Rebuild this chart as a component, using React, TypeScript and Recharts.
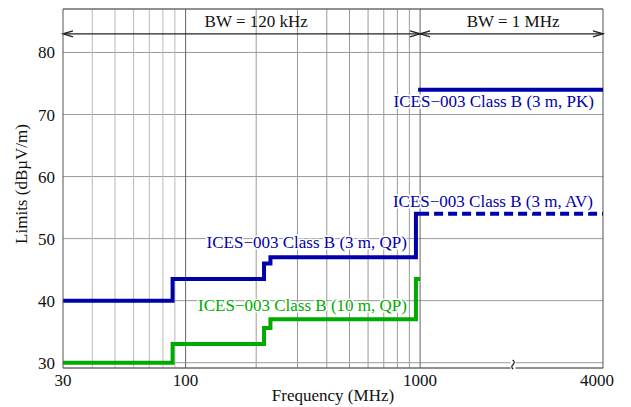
import React from "react";
import {
  LineChart,
  Line,
  XAxis,
  YAxis,
  CartesianGrid,
  ReferenceLine,
  ReferenceDot,
} from "recharts";

// Limit steps (frequency in MHz, level in dBµV/m)
const qp3Freq = [30, 88, 216, 230, 960, 1000];
const qp3Limit = [40, 43.5, 46, 47, 54, 54];
const qp10Freq = [30, 88, 216, 230, 960, 1000];
const qp10Limit = [30, 33, 35.6, 37, 43.5, 43.5];
const pkFreq = [1000, 4000];
const pkLimit = [74, 74];
const avFreq = [1000, 4000];
const avLimit = [54, 54];

const xTickFreqs = [30, 100, 1000, 4000];
const yTicks = [30, 40, 50, 60, 70, 80];
const gridLow = [40, 50, 60, 70, 80, 90];
const gridMid = [200, 300, 400, 500, 600, 700, 800, 900];
const gridMajor = [100, 1000];

const BLUE = "#0000aa";
const GREEN = "#00aa00";
const FONT = "'Liberation Serif', 'Times New Roman', serif";

// log axis up to 1 GHz, then a compressed linear piece up to 4 GHz
const BREAK_SPAN = 0.78;
const tx = (f: number) =>
  f <= 1000 ? Math.log10(f) : 3 + ((f - 1000) / 3000) * BREAK_SPAN;

const X_DOMAIN = [tx(30), tx(4000)];
const Y_DOMAIN = [29.15, 87];

const toPoints = (freq: number[], lvl: number[]) =>
  freq.map((f, i) => ({ x: tx(f), y: lvl[i] }));

const qp3Data = toPoints(qp3Freq, qp3Limit);
const qp10Data = toPoints(qp10Freq, qp10Limit);
const pkData = toPoints(pkFreq, pkLimit);
const avData = toPoints(avFreq, avLimit);

const gridAt = (freqs: number[]) => ({ xAxis, offset }: any) =>
  freqs.map((f) =>
    xAxis && typeof xAxis.scale === "function"
      ? xAxis.scale(tx(f))
      : offset.left +
        ((tx(f) - X_DOMAIN[0]) / (X_DOMAIN[1] - X_DOMAIN[0])) * offset.width
  );

function ArrowSpan(props: any) {
  const { x1, y1, x2, y2 } = props;
  const h = 10;
  const w = 3;
  return (
    <g stroke="#222" strokeWidth={1.3} fill="none">
      <line x1={x1} y1={y1} x2={x2} y2={y2} />
      <path d={`M${x1 + h},${y1 - w} L${x1},${y1} L${x1 + h},${y1 + w}`} />
      <path d={`M${x2 - h},${y2 - w} L${x2},${y2} L${x2 - h},${y2 + w}`} />
    </g>
  );
}

const textAt =
  (text: string, color: string, anchor: string, dx: number, dy: number, halo = true) =>
  (p: any) =>
    (
      <text
        x={p.cx + dx}
        y={p.cy + dy}
        textAnchor={anchor}
        dominantBaseline="central"
        fontFamily={FONT}
        fontSize={17}
        fill={color}
        stroke={halo ? "#fff" : "none"}
        strokeWidth={halo ? 3 : 0}
        paintOrder="stroke"
      >
        {text}
      </text>
    );

function BreakMark(p: any) {
  const { cx, cy } = p;
  return (
    <g>
      <rect x={cx - 2.5} y={cy - 8} width={5} height={9} fill="#fff" />
      <path
        d={`M${cx - 0.5},${cy - 8} q3,2 0.5,4.5 q-2.5,2 0,4.5`}
        stroke="#111"
        strokeWidth={1.2}
        fill="none"
      />
    </g>
  );
}

function FreqTick(props: any) {
  const { x, y, payload } = props;
  const f = xTickFreqs.find((v) => Math.abs(tx(v) - payload.value) < 1e-9);
  // keep the last label inside the frame
  const shift = f === 4000 ? -6 : 0;
  return (
    <text
      x={x + shift}
      y={y}
      dy="0.71em"
      textAnchor="middle"
      fontFamily={FONT}
      fontSize={17}
      fill="#111"
    >
      {f}
    </text>
  );
}

export default function App() {
  return (
    <div style={{ position: "absolute", left: 0, top: 0, background: "#fff" }}>
      <LineChart
        width={631}
        height={407}
        margin={{ top: 9, right: 28, bottom: 0, left: 0 }}
      >
        <CartesianGrid vertical={false} stroke="#9a9a9a" />
        <CartesianGrid
          horizontal={false}
          stroke="#b8b8b8"
          verticalCoordinatesGenerator={gridAt(gridLow)}
        />
        <CartesianGrid
          horizontal={false}
          stroke="#9a9a9a"
          verticalCoordinatesGenerator={gridAt(gridMid)}
        />
        <CartesianGrid
          horizontal={false}
          stroke="#666"
          verticalCoordinatesGenerator={gridAt(gridMajor)}
        />
        <XAxis
          type="number"
          dataKey="x"
          domain={X_DOMAIN}
          ticks={xTickFreqs.map(tx)}
          interval={0}
          allowDataOverflow
          height={39}
          tickLine={false}
          tickMargin={0}
          tick={<FreqTick />}
          axisLine={{ stroke: "#555" }}
          label={{
            content: (p: any) => (
              <text
                x={p.viewBox.x + p.viewBox.width / 2}
                y={395}
                textAnchor="middle"
                dominantBaseline="central"
                fontFamily={FONT}
                fontSize={17}
                fill="#111"
              >
                Frequency (MHz)
              </text>
            ),
          }}
        />
        <YAxis
          type="number"
          domain={Y_DOMAIN}
          ticks={yTicks}
          interval={0}
          allowDataOverflow
          width={63}
          tickLine={false}
          axisLine={{ stroke: "#555" }}
          tick={{ fontFamily: FONT, fontSize: 17, fill: "#111" }}
          label={{
            content: () => {
              const cx = 21;
              const cy = 184;
              return (
                <text
                  x={cx}
                  y={cy}
                  transform={`rotate(-90, ${cx}, ${cy})`}
                  textAnchor="middle"
                  dominantBaseline="central"
                  fontFamily={FONT}
                  fontSize={17}
                  fill="#111"
                >
                  Limits (dBµV/m)
                </text>
              );
            },
          }}
        />
        <ReferenceLine y={Y_DOMAIN[1]} stroke="#555" />
        <ReferenceLine x={X_DOMAIN[1]} stroke="#555" />

        <ReferenceLine
          segment={[
            { x: tx(30), y: 83 },
            { x: tx(1000), y: 83 },
          ]}
          shape={ArrowSpan}
        />
        <ReferenceLine
          segment={[
            { x: tx(1000), y: 83 },
            { x: tx(4000), y: 83 },
          ]}
          shape={ArrowSpan}
        />

        <Line
          data={qp10Data}
          dataKey="y"
          type="stepAfter"
          stroke={GREEN}
          strokeWidth={4}
          dot={false}
          isAnimationActive={false}
        />
        <Line
          data={qp3Data}
          dataKey="y"
          type="stepAfter"
          stroke={BLUE}
          strokeWidth={4}
          dot={false}
          isAnimationActive={false}
        />
        <Line
          data={avData}
          dataKey="y"
          type="linear"
          stroke={BLUE}
          strokeWidth={4}
          strokeDasharray="9 5"
          dot={false}
          isAnimationActive={false}
        />
        <Line
          data={pkData}
          dataKey="y"
          type="linear"
          stroke={BLUE}
          strokeWidth={4}
          strokeLinecap="square"
          dot={false}
          isAnimationActive={false}
        />

        <ReferenceDot
          x={tx(200)}
          y={85}
          r={0}
          shape={textAt("BW = 120 kHz", "#111", "middle", 0, 0, false)}
        />
        <ReferenceDot
          x={tx(2525)}
          y={85}
          r={0}
          shape={textAt("BW = 1 MHz", "#111", "middle", 0, 0, false)}
        />
        <ReferenceDot
          x={tx(4000)}
          y={74}
          r={0}
          shape={textAt("ICES\u2212003 Class B (3 m, PK)", BLUE, "end", -9, 12)}
        />
        <ReferenceDot
          x={tx(4000)}
          y={54}
          r={0}
          shape={textAt("ICES\u2212003 Class B (3 m, AV)", BLUE, "end", -10, -12)}
        />
        <ReferenceDot
          x={tx(960)}
          y={47}
          r={0}
          shape={textAt("ICES\u2212003 Class B (3 m, QP)", BLUE, "end", -9, -15)}
        />
        <ReferenceDot
          x={tx(960)}
          y={37}
          r={0}
          shape={textAt("ICES\u2212003 Class B (10 m, QP)", GREEN, "end", -9, -14)}
        />
        <ReferenceDot
          x={tx(2525)}
          y={Y_DOMAIN[0]}
          r={0}
          shape={BreakMark}
        />
      </LineChart>
    </div>
  );
}
